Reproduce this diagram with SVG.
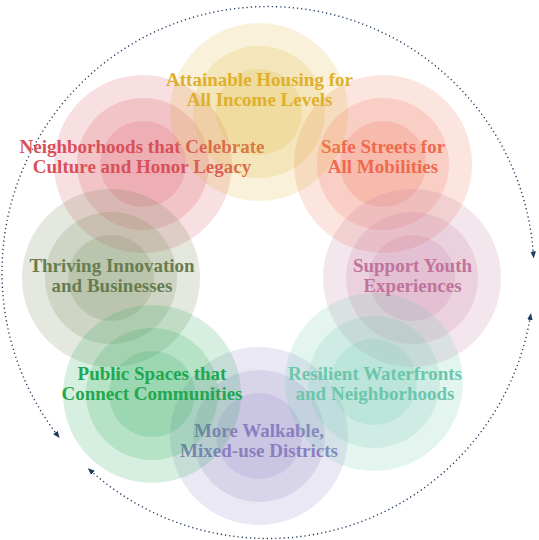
<svg xmlns="http://www.w3.org/2000/svg" width="539" height="540" viewBox="0 0 539 540">
<style>
text{font-family:"Liberation Serif","Times New Roman",serif;font-weight:bold;font-size:19px;text-anchor:middle}
.c{fill-opacity:0.18}
.arc{fill:none;stroke:#1f3a5f;stroke-width:1.4;stroke-dasharray:1.2 3;stroke-linecap:butt}
</style>
<defs>
<marker id="ah" viewBox="0 0 10 10" refX="5" refY="5" markerWidth="7" markerHeight="7" markerUnits="userSpaceOnUse" orient="auto-start-reverse">
<path d="M0,1 L10,5 L0,9 Z" fill="#1f3a5f"/>
</marker>
</defs>
<g id="connectors">
<path class="arc" d="M57.5,435.2 A266,266 0 1 1 533.4,254.9" marker-start="url(#ah)" marker-end="url(#ah)"/>
<path class="arc" d="M90.4,470.5 A266,266 0 0 0 530.4,316.4" marker-start="url(#ah)" marker-end="url(#ah)"/>
</g>
<g id="node-neighborhoods" fill="#d9505a">
<circle class="c" cx="143" cy="164" r="89"/><circle class="c" cx="143" cy="164" r="66"/><circle class="c" cx="143" cy="164" r="43"/>
<text x="142" y="153">Neighborhoods that Celebrate</text><text x="142" y="173">Culture and Honor Legacy</text>
</g>
<g id="node-safe-streets" fill="#ef6a4d">
<circle class="c" cx="383" cy="164" r="89"/><circle class="c" cx="383" cy="164" r="66"/><circle class="c" cx="383" cy="164" r="43"/>
<text x="383" y="153">Safe Streets for</text><text x="383" y="173">All Mobilities</text>
</g>
<g id="node-housing" fill="#dfb02b">
<circle class="c" cx="259" cy="112" r="89"/><circle class="c" cx="259" cy="112" r="66"/><circle class="c" cx="259" cy="112" r="43"/>
<text x="259.5" y="86">Attainable Housing for</text><text x="259.5" y="106">All Income Levels</text>
</g>
<g id="node-thriving" fill="#677d4f">
<circle class="c" cx="111" cy="278" r="89"/><circle class="c" cx="111" cy="278" r="66"/><circle class="c" cx="111" cy="278" r="43"/>
<text x="112" y="272">Thriving Innovation</text><text x="112" y="292">and Businesses</text>
</g>
<g id="node-youth" fill="#c0739b">
<circle class="c" cx="412" cy="278" r="89"/><circle class="c" cx="412" cy="278" r="66"/><circle class="c" cx="412" cy="278" r="43"/>
<text x="412.5" y="272">Support Youth</text><text x="412.5" y="292">Experiences</text>
</g>
<g id="node-walkable" fill="#8a7fc0">
<circle class="c" cx="259" cy="436" r="89"/><circle class="c" cx="259" cy="436" r="66"/><circle class="c" cx="259" cy="436" r="43"/>
<text x="259" y="437">More Walkable,</text><text x="259" y="457">Mixed-use Districts</text>
</g>
<g id="node-public-spaces" fill="#20a851">
<circle class="c" cx="152" cy="394" r="89"/><circle class="c" cx="152" cy="394" r="66"/><circle class="c" cx="152" cy="394" r="43"/>
<text x="152" y="380">Public Spaces that</text><text x="152" y="400">Connect Communities</text>
</g>
<g id="node-resilient" fill="#6cc6ab">
<circle class="c" cx="374" cy="382" r="89"/><circle class="c" cx="374" cy="382" r="66"/><circle class="c" cx="374" cy="382" r="43"/>
<text x="375" y="380">Resilient Waterfronts</text><text x="375" y="400">and Neighborhoods</text>
</g>
</svg>
